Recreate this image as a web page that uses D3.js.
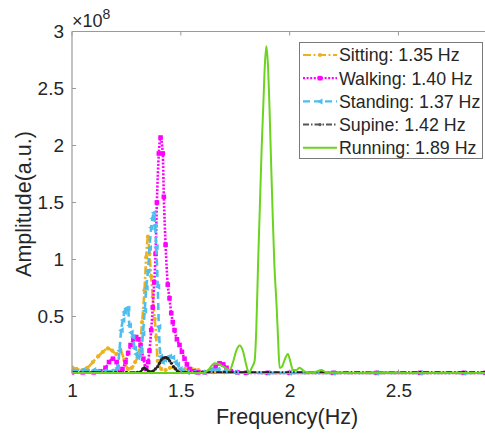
<!DOCTYPE html>
<html>
<head>
<meta charset="utf-8">
<script src="https://cdn.jsdelivr.net/npm/d3@7"></script>
<style>
  body { margin: 0; background: #fff; }
  text { font-family: "Liberation Sans", Arial, sans-serif; fill: #262626; }
</style>
</head>
<body>
<div id="chart"></div>
<script>
// amplitudes in units of 1e8, frequency in Hz
const sittingFreq = [1.0,1.02,1.048,1.07,1.096,1.12,1.142,1.165,1.185,1.203,1.223,1.24,1.257,1.275,1.29,1.31,1.322,1.333,1.341,1.349,1.356,1.364,1.371,1.38,1.387,1.394,1.41,1.43,1.45,1.47,1.5,1.52,1.55,1.58,1.61,1.65,1.7,1.8,1.9,2.0,2.2,2.4,2.6,2.8,2.9];
const sittingAmp = [0.055,0.04,0.03,0.05,0.1,0.15,0.19,0.22,0.2,0.17,0.2,0.12,0.04,0.05,0.1,0.2,0.45,0.73,1.02,1.2,1.05,0.85,0.67,0.48,0.32,0.11,0.04,0.03,0.05,0.05,0.03,0.04,0.04,0.03,0.01,0.01,0.01,0.01,0.005,0.005,0.005,0.005,0.005,0.005,0.005];

const walkingFreq = [1.0,1.05,1.1,1.13,1.154,1.17,1.188,1.205,1.218,1.232,1.246,1.258,1.269,1.282,1.295,1.305,1.315,1.328,1.341,1.35,1.356,1.364,1.371,1.378,1.384,1.39,1.399,1.407,1.417,1.422,1.43,1.44,1.448,1.456,1.463,1.471,1.482,1.494,1.505,1.517,1.528,1.54,1.56,1.58,1.61,1.64,1.66,1.678,1.695,1.71,1.73,1.76,1.8,1.9,2.0,2.2,2.4,2.6,2.8,2.9];
const walkingAmp = [0.01,0.01,0.01,0.02,0.05,0.1,0.13,0.1,0.02,0.04,0.1,0.18,0.25,0.3,0.32,0.3,0.25,0.13,0.04,0.1,0.2,0.38,0.58,0.8,1.05,1.5,1.93,2.07,1.93,1.55,1.13,0.78,0.66,0.53,0.45,0.38,0.3,0.25,0.19,0.13,0.08,0.04,0.02,0.01,0.01,0.03,0.06,0.09,0.08,0.05,0.02,0.01,0.005,0.005,0.005,0.005,0.005,0.005,0.005,0.005];

const standingFreq = [1.0,1.05,1.1,1.15,1.18,1.2,1.209,1.218,1.226,1.234,1.241,1.249,1.257,1.264,1.272,1.28,1.288,1.295,1.303,1.31,1.318,1.326,1.334,1.341,1.349,1.356,1.364,1.37,1.376,1.382,1.387,1.394,1.399,1.407,1.415,1.425,1.437,1.448,1.463,1.475,1.485,1.497,1.508,1.53,1.56,1.6,1.64,1.67,1.7,1.75,1.8,1.9,2.0,2.2,2.4,2.6,2.8,2.9];
const standingAmp = [0.02,0.03,0.03,0.02,0.02,0.03,0.05,0.2,0.38,0.47,0.54,0.57,0.57,0.42,0.36,0.32,0.22,0.17,0.14,0.16,0.2,0.35,0.55,0.75,0.9,1.1,1.28,1.36,1.41,1.3,1.11,0.76,0.41,0.15,0.1,0.12,0.14,0.15,0.14,0.1,0.08,0.04,0.02,0.01,0.01,0.01,0.03,0.035,0.02,0.01,0.01,0.005,0.005,0.005,0.005,0.005,0.005,0.005];

const supineFreq = [1.0,1.1,1.2,1.25,1.3,1.315,1.325,1.333,1.342,1.352,1.362,1.372,1.383,1.393,1.402,1.41,1.418,1.426,1.433,1.441,1.449,1.457,1.466,1.476,1.485,1.494,1.52,1.6,1.7,1.8,1.9,2.0,2.2,2.4,2.6,2.8,2.9];
const supineAmp = [0.01,0.01,0.01,0.01,0.01,0.015,0.04,0.05,0.035,0.02,0.015,0.02,0.04,0.06,0.09,0.12,0.135,0.14,0.14,0.13,0.11,0.09,0.06,0.04,0.02,0.01,0.01,0.01,0.01,0.01,0.01,0.01,0.01,0.01,0.01,0.01,0.01];

const runningFreq = [1.0,1.2,1.4,1.5,1.55,1.58,1.609,1.63,1.655,1.672,1.687,1.705,1.724,1.74,1.755,1.77,1.785,1.8,1.813,1.826,1.839,1.847,1.855,1.863,1.871,1.879,1.886,1.893,1.9,1.908,1.915,1.922,1.93,1.94,1.947,1.954,1.965,1.977,1.992,2.004,2.015,2.03,2.046,2.06,2.08,2.1,2.12,2.146,2.17,2.2,2.3,2.4,2.6,2.8,2.9];
const runningAmp = [0.005,0.005,0.005,0.005,0.005,0.005,0.01,0.04,0.09,0.085,0.07,0.05,0.03,0.1,0.2,0.245,0.2,0.08,0.0,0.05,0.11,0.4,0.96,1.45,1.95,2.35,2.7,2.87,2.72,2.3,1.84,1.4,0.95,0.6,0.3,0.05,0.06,0.12,0.17,0.1,0.03,0.03,0.05,0.03,0.01,0.01,0.015,0.03,0.01,0.01,0.005,0.01,0.005,0.005,0.005];

const labels = ["Sitting: 1.35 Hz", "Walking: 1.40 Hz", "Standing: 1.37 Hz", "Supine: 1.42 Hz", "Running: 1.89 Hz"];
const xTicks = [1, 1.5, 2, 2.5];
const yTicks = [0.5, 1, 1.5, 2, 2.5, 3];

const series = [
  { name: labels[0], freq: sittingFreq, amp: sittingAmp, color: "#EDB120", width: 2.6, dash: "8,2.5,2,2.5", marker: "dot" },
  { name: labels[1], freq: walkingFreq, amp: walkingAmp, color: "#FF00FF", width: 2.6, dash: "2,1.6", marker: "square" },
  { name: labels[2], freq: standingFreq, amp: standingAmp, color: "#4DBEEE", width: 2.6, dash: "7,4", marker: "tri" },
  { name: labels[3], freq: supineFreq, amp: supineAmp, color: "#222222", width: 2, dash: "6,2,1.5,2", marker: "smalldot" },
  { name: labels[4], freq: runningFreq, amp: runningAmp, color: "#6AD41E", width: 2, dash: null, marker: null }
];

const W = 485, H = 435;
const X0 = 72, X1 = 485.5, YT = 31.5, YB = 373.5;

const svg = d3.select("#chart").append("svg")
  .attr("width", W).attr("height", H);

const x = d3.scaleLinear().domain([1, 2.9]).range([X0, X1]);
const y = d3.scaleLinear().domain([0, 3]).range([YB, YT]);

svg.append("clipPath").attr("id", "clip")
  .append("rect").attr("x", X0).attr("y", YT - 2).attr("width", X1 - X0).attr("height", YB - YT + 4);

const plot = svg.append("g").attr("clip-path", "url(#clip)");

const line = d3.line()
  .x(d => x(d[0]))
  .y(d => y(d[1]))
  .curve(d3.curveMonotoneX);

function drawMarker(g, type, color, px, py) {
  if (type === "dot") {
    g.append("circle").attr("cx", px).attr("cy", py).attr("r", 2.1).attr("fill", color);
  } else if (type === "smalldot") {
    g.append("circle").attr("cx", px).attr("cy", py).attr("r", 1.6).attr("fill", color);
  } else if (type === "square") {
    g.append("rect").attr("x", px - 2.3).attr("y", py - 2.3).attr("width", 4.6).attr("height", 4.6).attr("fill", color);
  } else if (type === "tri") {
    g.append("path")
      .attr("d", `M${px - 3},${py} L${px + 2.5},${py - 3} L${px + 2.5},${py + 3} Z`)
      .attr("fill", color);
  }
}

series.forEach(s => {
  const pts = d3.zip(s.freq, s.amp);
  plot.append("path")
    .attr("d", line(pts))
    .attr("fill", "none")
    .attr("stroke", s.color)
    .attr("stroke-width", s.width)
    .attr("stroke-dasharray", s.dash)
    .attr("stroke-linejoin", "round");
  if (s.marker) {
    const mg = plot.append("g");
    pts.forEach(p => drawMarker(mg, s.marker, s.color, x(p[0]), y(p[1])));
  }
});

// axes box
const axisColor = "#9a9a9a";
svg.append("line").attr("x1", X0).attr("x2", X0).attr("y1", YT).attr("y2", YB)
  .attr("stroke", axisColor).attr("stroke-width", 1.2);
svg.append("line").attr("x1", X0).attr("x2", X1).attr("y1", YB).attr("y2", YB)
  .attr("stroke", axisColor).attr("stroke-width", 1.2);
svg.append("line").attr("x1", X0).attr("x2", X1).attr("y1", YT).attr("y2", YT)
  .attr("stroke", axisColor).attr("stroke-width", 1.2);

const xAxisCall = d3.axisBottom(x).tickValues(xTicks).tickSize(0).tickPadding(10)
  .tickFormat(d => d3.format("")(d));
const xAxis = svg.append("g").attr("transform", `translate(0, ${YB})`).call(xAxisCall);
xAxis.select(".domain").remove();
xAxis.selectAll("text").attr("font-size", "19px").attr("font-family", "Liberation Sans, Arial, sans-serif").attr("fill", "#262626");

const yAxisCall = d3.axisLeft(y).tickValues(yTicks).tickSize(0).tickPadding(8)
  .tickFormat(d => d3.format("")(d));
const yAxis = svg.append("g").attr("transform", `translate(${X0}, 0)`).call(yAxisCall);
yAxis.select(".domain").remove();
yAxis.selectAll("text").attr("font-size", "19px").attr("font-family", "Liberation Sans, Arial, sans-serif").attr("fill", "#262626");

// inward ticks
xTicks.forEach(t => {
  svg.append("line").attr("x1", x(t)).attr("x2", x(t)).attr("y1", YB).attr("y2", YB - 4).attr("stroke", axisColor);
  svg.append("line").attr("x1", x(t)).attr("x2", x(t)).attr("y1", YT).attr("y2", YT + 4).attr("stroke", axisColor);
});
yTicks.forEach(t => {
  svg.append("line").attr("x1", X0).attr("x2", X0 + 4).attr("y1", y(t)).attr("y2", y(t)).attr("stroke", axisColor);
});

// exponent label
const expo = svg.append("text").attr("x", 72).attr("y", 27).attr("font-size", "18px");
expo.append("tspan").text("\u00d710");
expo.append("tspan").attr("dy", -8).attr("font-size", "14px").text("8");

// axis labels
svg.append("text")
  .attr("x", 287).attr("y", 424)
  .attr("text-anchor", "middle")
  .attr("font-size", "21.5px")
  .text("Frequency(Hz)");

svg.append("text")
  .attr("transform", "translate(31, 204) rotate(-90)")
  .attr("text-anchor", "middle")
  .attr("font-size", "21.5px")
  .text("Amplitude(a.u.)");

// legend
const lg = svg.append("g");
lg.append("rect")
  .attr("x", 299.5).attr("y", 42.5).attr("width", 183).attr("height", 116)
  .attr("fill", "#fff").attr("stroke", "#7a7a7a").attr("stroke-width", 1);

series.forEach((s, i) => {
  const cy = 55 + i * 23.2;
  const c = s.name.startsWith("Supine") ? "#555" : s.color;
  lg.append("line")
    .attr("x1", 303).attr("x2", 337).attr("y1", cy).attr("y2", cy)
    .attr("stroke", c)
    .attr("stroke-width", Math.min(s.width, 2.2))
    .attr("stroke-dasharray", s.dash);
  if (s.marker) drawMarker(lg, s.marker, c, 320, cy);
  lg.append("text")
    .attr("x", 339).attr("y", cy + 6.3)
    .attr("font-size", "17.8px")
    .text(s.name);
});
</script>
</body>
</html>
